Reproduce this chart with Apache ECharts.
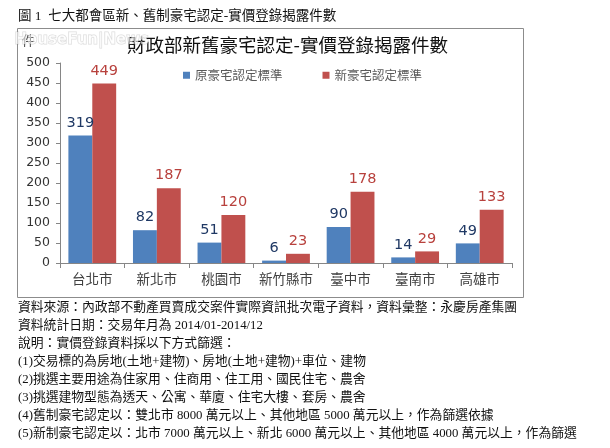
<!DOCTYPE html>
<html>
<head>
<meta charset="utf-8">
<script src="https://cdn.jsdelivr.net/npm/echarts@6/dist/echarts.min.js"></script>
<style>
html,body{margin:0;padding:0;background:#fff;}
#c{width:610px;height:448px;}
</style>
</head>
<body>
<div id="c"></div>
<script>
const categories = ['台北市','新北市','桃園市','新竹縣市','臺中市','臺南市','高雄市'];
const oldStandard = [319, 82, 51, 6, 90, 14, 49];
const newStandard = [449, 187, 120, 23, 178, 29, 133];
const seriesNames = ['原豪宅認定標準','新豪宅認定標準'];
const yTicks = [0, 50, 100, 150, 200, 250, 300, 350, 400, 450, 500];
const captionText = '圖 1  七大都會區新、舊制豪宅認定-實價登錄揭露件數';
const chartTitle = '財政部新舊豪宅認定-實價登錄揭露件數';
const notes = [
  '資料來源：內政部不動產買賣成交案件實際資訊批次電子資料，資料彙整：永慶房產集團',
  '資料統計日期：交易年月為 2014/01-2014/12',
  '說明：實價登錄資料採以下方式篩選：',
  '(1)交易標的為房地(土地+建物)、房地(土地+建物)+車位、建物',
  '(2)挑選主要用途為住家用、住商用、住工用、國民住宅、農舍',
  '(3)挑選建物型態為透天、公寓、華廈、住宅大樓、套房、農舍',
  '(4)舊制豪宅認定以：雙北市 8000 萬元以上、其他地區 5000 萬元以上，作為篩選依據',
  '(5)新制豪宅認定以：北市 7000 萬元以上、新北 6000 萬元以上、其他地區 4000 萬元以上，作為篩選'
];

const serifFont = '"Liberation Serif", "Noto Sans CJK TC", serif';
const cjkFont = '"Noto Sans CJK TC", sans-serif';
const numFont = '"DejaVu Sans", sans-serif';

const chart = echarts.init(document.getElementById('c'), null, {renderer: 'canvas'});

const graphics = [
  {type: 'rect', z: -10, shape: {x: 17.5, y: 28.5, width: 506, height: 269},
   style: {fill: '#fff', stroke: '#8c8c8c', lineWidth: 1}},
  {type: 'text', left: 18, top: 10,
   style: {text: captionText, font: '13.5px ' + serifFont, fill: '#111'}},
  {type: 'text', left: 22, top: 34,
   style: {text: '件', font: '13px ' + cjkFont, fill: '#404040'}},
  {type: 'text', left: 14, top: 32, z: 50,
   style: {text: 'HouseFun|News', font: 'bold 15px "DejaVu Sans"', fill: 'rgba(255,255,255,0.6)', stroke: 'rgba(150,150,150,0.35)', lineWidth: 1}}
];
notes.forEach(function (t, i) {
  graphics.push({type: 'text', left: 18, top: 301 + i * 18,
    style: {text: t, font: '12.8px ' + serifFont, fill: '#111'}});
});

chart.setOption({
  animation: false,
  backgroundColor: '#fff',
  title: {
    text: chartTitle,
    left: 122, top: 31,
    textStyle: {fontFamily: cjkFont, fontSize: 18.5, fontWeight: 'normal', color: '#111'}
  },
  legend: {
    data: seriesNames,
    left: 178, top: 64,
    itemWidth: 7, itemHeight: 7, itemGap: 40,
    icon: 'rect',
    textStyle: {fontFamily: cjkFont, fontSize: 12.5, color: '#595959'}
  },
  grid: {left: 60, right: 98, top: 63, bottom: 185},
  xAxis: {
    type: 'category',
    data: categories,
    axisLine: {lineStyle: {color: '#868686'}},
    axisTick: {show: true, alignWithLabel: false, length: 5, lineStyle: {color: '#868686'}},
    axisLabel: {interval: 0, fontFamily: cjkFont, fontSize: 13.5, color: '#404040', margin: 9}
  },
  yAxis: {
    type: 'value',
    min: yTicks[0], max: yTicks[yTicks.length - 1], interval: 50,
    axisLine: {show: true, lineStyle: {color: '#868686'}},
    axisTick: {show: true, length: 4, lineStyle: {color: '#868686'}},
    splitLine: {show: false},
    axisLabel: {fontFamily: numFont, fontSize: 12.5, color: '#333', margin: 10}
  },
  series: [
    {
      name: seriesNames[0], type: 'bar', data: oldStandard,
      barGap: '0%', barCategoryGap: '26%',
      itemStyle: {color: '#4F81BD'},
      label: {show: true, position: 'top', distance: 5, fontFamily: numFont, fontSize: 14.5, color: '#1F3864'}
    },
    {
      name: seriesNames[1], type: 'bar', data: newStandard,
      itemStyle: {color: '#C0504D'},
      label: {show: true, position: 'top', distance: 5, fontFamily: numFont, fontSize: 14.5, color: '#B8413D'}
    }
  ],
  graphic: graphics
});
</script>
</body>
</html>
